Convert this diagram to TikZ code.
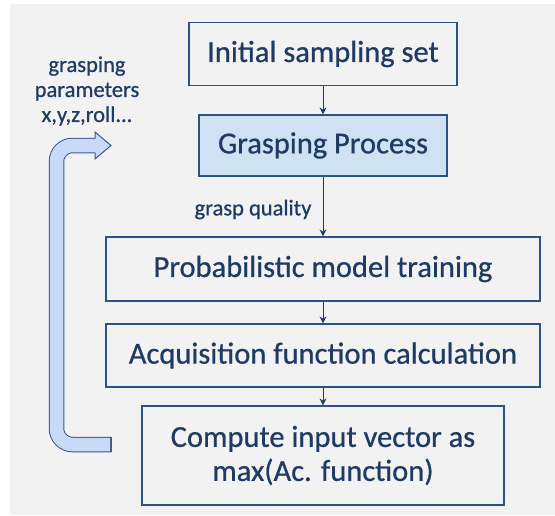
\documentclass[tikz,border=0pt]{standalone}
\usepackage{fontspec}
\setmainfont{Carlito}[FakeBold=0.7]
\usetikzlibrary{arrows.meta}
\definecolor{bggray}{HTML}{F2F2F2}
\definecolor{navy}{HTML}{1F3B63}
\definecolor{boxline}{HTML}{2F5283}
\definecolor{lightfill}{HTML}{CFE2F3}
\definecolor{arrowfill}{HTML}{C9DAF8}
\definecolor{arrowline}{HTML}{3A5A85}
\begin{document}
\begin{tikzpicture}[x=1pt,y=-1pt,
  procbox/.style={draw=boxline, line width=1.2pt, text=navy, font=\fontsize{30.5}{34}\selectfont, inner sep=0pt, align=center},
  flow/.style={draw=navy, line width=1pt, -{Stealth[length=7pt,width=7pt]}},
  smalltext/.style={text=navy, font=\fontsize{22.5}{25}\selectfont, align=center, inner sep=0pt}]
\useasboundingbox (0,0) rectangle (555,515);
\fill[bggray] (10,4) rectangle (555,515);
\node[procbox, minimum width=268pt, minimum height=63pt] (init) at (323,54) {Initial sampling set};
\node[procbox, fill=lightfill, minimum width=248pt, minimum height=61pt] (grasp) at (323,145.5) {Grasping Process};
\node[procbox, minimum width=434pt, minimum height=64pt] (prob) at (323,269) {Probabilistic model training};
\node[procbox, minimum width=434pt, minimum height=63pt] (acq) at (323,355.5) {Acquisition function calculation};
\node[procbox, minimum width=362pt, minimum height=99pt] (comp) at (323,455.5) {Compute input vector as\\max(Ac. function)};
\draw[flow] (init) -- (grasp);
\draw[flow] (grasp) -- node[smalltext, anchor=east, xshift=-11pt, yshift=-3pt] (gq) {grasp quality} (prob);
\draw[flow] (prob) -- (acq);
\draw[flow] (acq) -- (comp);
\node[smalltext] (params) at (87,91) {grasping\\parameters\\x,y,z,roll...};
% hollow loop arrow
\coordinate (loopstart) at (111,444.5);
\coordinate (loopc1) at (56.5,444.5);
\coordinate (loopc2) at (56.5,145.5);
\coordinate (headbase) at (95,145.5);
\coordinate (tip) at (111,145.5);
\draw[arrowline, line width=15.5pt, line cap=butt, rounded corners=16pt] (loopstart) -- (loopc1) -- (loopc2) -- (headbase);
\draw[arrowfill, line width=13.5pt, line cap=butt, rounded corners=16pt] ([xshift=-0.8pt]loopstart) -- (loopc1) -- (loopc2) -- ([xshift=0.6pt]headbase);
\draw[arrowline, line width=1pt] (111,437) -- (111,452);
\filldraw[fill=arrowfill, draw=arrowline, line width=1pt, line join=miter] (95,138.5) -- (95,132) -- (tip) -- (95,159) -- (95,152.5);
\end{tikzpicture}
\end{document}
